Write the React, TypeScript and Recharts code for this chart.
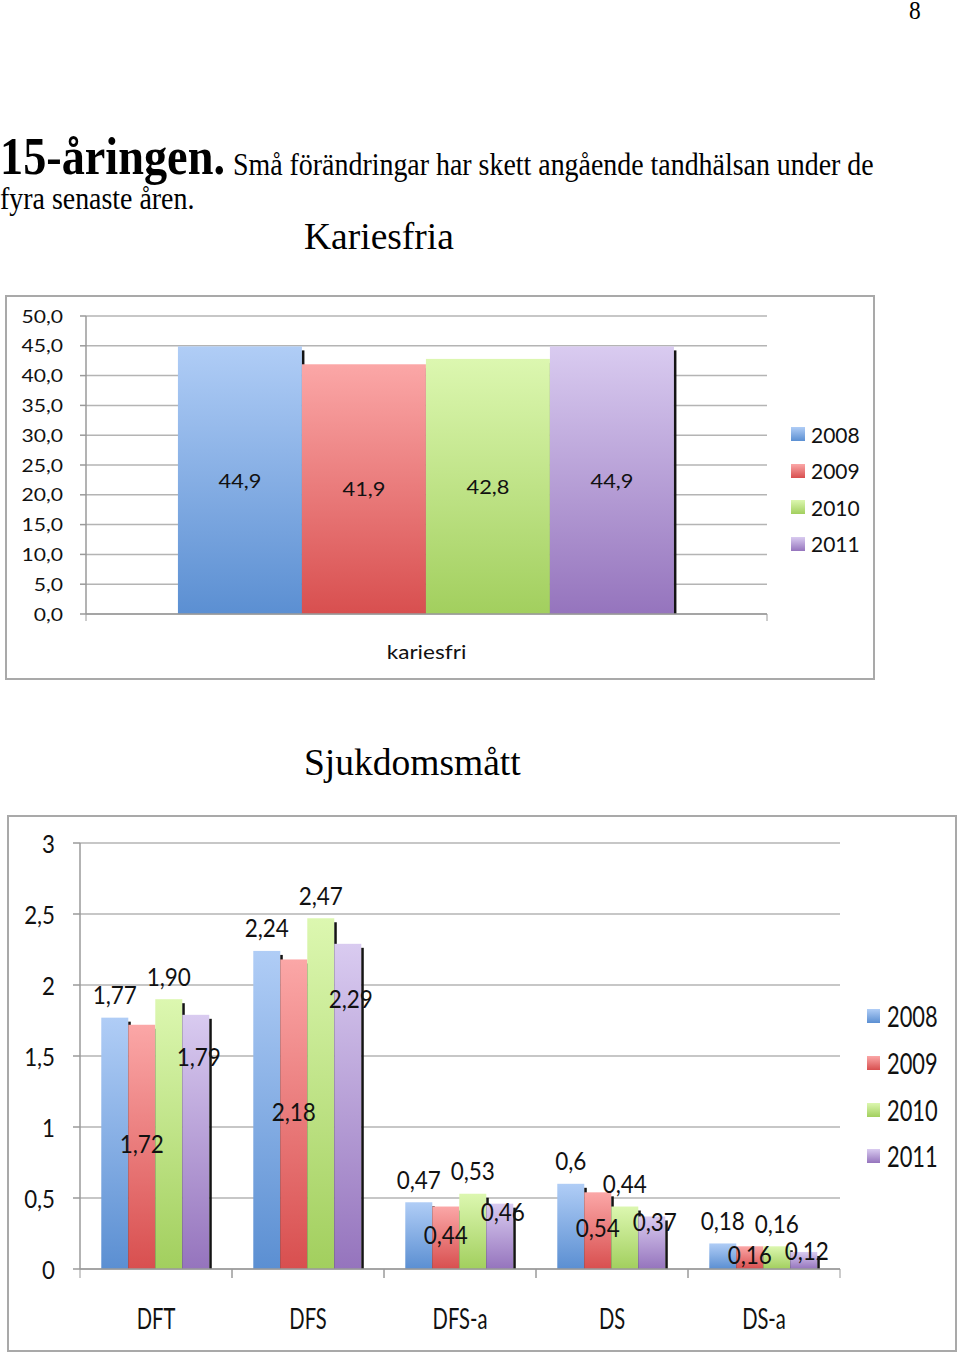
import { BarChart, Bar, XAxis, YAxis, CartesianGrid, Legend, LabelList } from 'recharts';

const years = ['2008', '2009', '2010', '2011'];

const kariesCategories = ['kariesfri'];
const karies2008 = [44.9];
const karies2009 = [41.9];
const karies2010 = [42.8];
const karies2011 = [44.9];
const kariesTicks = [0, 5, 10, 15, 20, 25, 30, 35, 40, 45, 50];

const sjukCategories = ['DFT', 'DFS', 'DFS-a', 'DS', 'DS-a'];
const sjuk2008 = [1.77, 2.24, 0.47, 0.6, 0.18];
const sjuk2009 = [1.72, 2.18, 0.44, 0.54, 0.16];
const sjuk2010 = [1.9, 2.47, 0.53, 0.44, 0.16];
const sjuk2011 = [1.79, 2.29, 0.46, 0.37, 0.12];
// labels as printed in the chart
const sjukText2008 = ['1,77', '2,24', '0,47', '0,6', '0,18'];
const sjukText2009 = ['1,72', '2,18', '0,44', '0,54', '0,16'];
const sjukText2010 = ['1,90', '2,47', '0,53', '0,44', '0,16'];
const sjukText2011 = ['1,79', '2,29', '0,46', '0,37', '0,12'];
const sjukTicks = [0, 0.5, 1, 1.5, 2, 2.5, 3];

const kariesData = kariesCategories.map((name, i) => ({
  name,
  y2008: karies2008[i],
  y2009: karies2009[i],
  y2010: karies2010[i],
  y2011: karies2011[i],
}));

const sjukData = sjukCategories.map((name, i) => ({
  name,
  y2008: sjuk2008[i],
  y2009: sjuk2009[i],
  y2010: sjuk2010[i],
  y2011: sjuk2011[i],
  t2008: sjukText2008[i],
  t2009: sjukText2009[i],
  t2010: sjukText2010[i],
  t2011: sjukText2011[i],
}));

const seriesColors = [
  { top: '#b0cdf6', bottom: '#5b8fd2' },
  { top: '#fba7a7', bottom: '#d84f4f' },
  { top: '#dcf7b0', bottom: '#a2cf5e' },
  { top: '#d9cbf0', bottom: '#9574bd' },
];

const FONT = 'Lato, "Open Sans", sans-serif';
const GRID = '#b4b4b4';
const AXIS = '#9a9a9a';

const sText = (x: number, y: number, text: string, size: number, sx: number, anchor = 'middle') => (
  <text
    transform={`translate(${x},${y}) scale(${sx},1)`}
    textAnchor={anchor}
    dominantBaseline="central"
    fontSize={size}
    fontFamily={FONT}
    fill="#111"
  >
    {text}
  </text>
);

const barBox = (p: any) => {
  const v = p.viewBox && p.viewBox.width != null ? p.viewBox : p;
  return { x: Number(v.x), y: Number(v.y), w: Number(v.width), h: Number(v.height) };
};

const ShadowBar = (props: any) => {
  const { x, y, width, height, fill } = props;
  if (!height || height <= 0) return null;
  return (
    <g>
      <rect x={x} y={y} width={width} height={height} fill={fill} />
      <rect x={x + width} y={y + 4} width={2.5} height={Math.max(height - 4, 0)} fill="#141414" />
    </g>
  );
};

const gradients = (prefix: string) => (
  <defs>
    {seriesColors.map((c, i) => (
      <linearGradient key={i} id={`${prefix}${i}`} x1="0" y1="0" x2="0" y2="1">
        <stop offset="0%" stopColor={c.top} />
        <stop offset="100%" stopColor={c.bottom} />
      </linearGradient>
    ))}
  </defs>
);

const makeXTick = (axisY: number, band: number, markLen: number, dy: number, size: number, sx: number) =>
  (p: any) => (
    <g>
      <line x1={p.x - band / 2} x2={p.x - band / 2} y1={axisY} y2={axisY + markLen} stroke={AXIS} />
      <line x1={p.x + band / 2} x2={p.x + band / 2} y1={axisY} y2={axisY + markLen} stroke={AXIS} />
      {sText(p.x, axisY + dy, String(p.payload.value), size, sx)}
    </g>
  );

const makeLegend = (size: number, sx: number, rowH: number, sq: number, gap: number) => () => (
  <div>
    {years.map((yr, i) => (
      <div key={yr} style={{ height: rowH, display: 'flex', alignItems: 'center' }}>
        <span
          style={{
            display: 'inline-block',
            width: sq,
            height: sq,
            marginRight: gap,
            background: `linear-gradient(${seriesColors[i].top}, ${seriesColors[i].bottom})`,
          }}
        />
        <span
          style={{
            display: 'inline-block',
            fontFamily: FONT,
            fontSize: size,
            lineHeight: 1,
            color: '#111',
            transform: `scaleX(${sx})`,
            transformOrigin: 'left center',
          }}
        >
          {yr}
        </span>
      </div>
    ))}
  </div>
);

// chart 1 layout: plot x 81..762, y 21..319
const K_W = 870;
const K_H = 385;
const K_AXIS_Y = 319;
const K_BAND = 681;

const kariesYTick = (p: any) => sText(p.x, p.y, Number(p.payload.value).toFixed(1).replace('.', ','), 16.5, 1.28, 'end');
const kariesLabel = (p: any) => {
  const b = barBox(p);
  return sText(b.x + b.w / 2, b.y + b.h / 2, Number(p.value).toFixed(1).replace('.', ','), 18.5, 1.18);
};

// chart 2 layout: plot x 73..833, y 28..454
const S_W = 950;
const S_H = 537;
const S_AXIS_Y = 454;
const S_BAND = 152;

const sjukYTick = (p: any) => sText(p.x, p.y, String(p.payload.value).replace('.', ','), 25, 0.89, 'end');
const sjukTopLabel = (p: any) => {
  const b = barBox(p);
  return sText(b.x + b.w / 2, b.y - 23, String(p.value), 25, 0.9);
};
const sjukMidLabel = (p: any) => {
  const b = barBox(p);
  return sText(b.x + b.w / 2, b.y + b.h / 2 - 3, String(p.value), 25, 0.9);
};
const sjukUpperLabel = (p: any) => {
  const b = barBox(p);
  return sText(b.x + b.w / 2 + 3, b.y + b.h * 0.18 - 4, String(p.value), 25, 0.9);
};

const serifText = (extra: React.CSSProperties): React.CSSProperties => ({
  position: 'absolute',
  fontFamily: '"Liberation Serif", serif',
  lineHeight: 1,
  whiteSpace: 'nowrap',
  transformOrigin: 'left top',
  color: '#000',
  ...extra,
});

export default function App() {
  return (
    <div style={{ position: 'absolute', left: 0, top: 0, width: 960, height: 1357, background: '#fff' }}>
      <div style={serifText({ left: 909, top: 0, fontSize: 26, lineHeight: 0.85, transform: 'scaleX(0.9)' })}>8</div>
      <div style={serifText({ left: 0, top: 134, fontSize: 52, lineHeight: 0.9, fontWeight: 700, transform: 'scaleX(0.89)' })}>
        15-åringen.
      </div>
      <div style={serifText({ left: 233, top: 149, fontSize: 31, transform: 'scaleX(0.9)' })}>
        Små förändringar har skett angående tandhälsan under de
      </div>
      <div style={serifText({ left: 0, top: 183, fontSize: 31, transform: 'scaleX(0.9)' })}>fyra senaste åren.</div>
      <div style={serifText({ left: 304, top: 218, fontSize: 37.5 })}>Kariesfria</div>
      <div style={serifText({ left: 304, top: 744, fontSize: 37.5 })}>Sjukdomsmått</div>

      <div style={{ position: 'absolute', left: 5, top: 295, width: K_W, height: K_H }}>
        <BarChart
          width={K_W}
          height={K_H}
          data={kariesData}
          margin={{ top: 21, right: 108, bottom: 16, left: 0 }}
          barCategoryGap="13.5%"
          barGap={0}
        >
          {gradients('kg')}
          <CartesianGrid vertical={false} stroke={GRID} strokeWidth={1.5} />
          <XAxis
            dataKey="name"
            height={50}
            interval={0}
            tickLine={false}
            axisLine={{ stroke: AXIS, strokeWidth: 1.5 }}
            tick={makeXTick(K_AXIS_Y, K_BAND, 7, 38, 20, 1.13)}
          />
          <YAxis
            width={81}
            domain={[0, 50]}
            ticks={kariesTicks}
            interval={0}
            tickSize={6}
            tickMargin={17}
            tickLine={{ stroke: AXIS, strokeWidth: 1.5 }}
            axisLine={{ stroke: AXIS, strokeWidth: 1.5 }}
            tick={kariesYTick}
          />
          <Legend
            layout="vertical"
            align="center"
            verticalAlign="middle"
            content={makeLegend(21, 1.0, 36.5, 14, 6)}
            wrapperStyle={{ left: 786, top: 121, width: 80 }}
          />
          {years.map((yr, i) => (
            <Bar
              key={yr}
              dataKey={`y${yr}`}
              name={yr}
              fill={`url(#kg${i})`}
              shape={(p: any) => <ShadowBar {...p} fill={`url(#kg${i})`} />}
              isAnimationActive={false}
            >
              <LabelList dataKey={`y${yr}`} content={kariesLabel} />
            </Bar>
          ))}
        </BarChart>
      </div>
      <div
        style={{
          position: 'absolute',
          left: 5,
          top: 295,
          width: K_W,
          height: K_H,
          border: '2px solid #a9a9a9',
          boxSizing: 'border-box',
          pointerEvents: 'none',
        }}
      />

      <div style={{ position: 'absolute', left: 7, top: 815, width: S_W, height: S_H }}>
        <BarChart
          width={S_W}
          height={S_H}
          data={sjukData}
          margin={{ top: 28, right: 117, bottom: 23, left: 0 }}
          barCategoryGap="14%"
          barGap={0}
        >
          {gradients('sg')}
          <CartesianGrid vertical={false} stroke={GRID} strokeWidth={1.5} />
          <XAxis
            dataKey="name"
            height={60}
            interval={0}
            tickLine={false}
            axisLine={{ stroke: AXIS, strokeWidth: 1.5 }}
            tick={makeXTick(S_AXIS_Y, S_BAND, 9, 49, 28, 0.72)}
          />
          <YAxis
            width={73}
            domain={[0, 3]}
            ticks={sjukTicks}
            interval={0}
            tickSize={7}
            tickMargin={18}
            tickLine={{ stroke: AXIS, strokeWidth: 1.5 }}
            axisLine={{ stroke: AXIS, strokeWidth: 1.5 }}
            tick={sjukYTick}
          />
          <Legend
            layout="vertical"
            align="center"
            verticalAlign="middle"
            content={makeLegend(28, 0.78, 46.7, 14, 7)}
            wrapperStyle={{ left: 860, top: 178, width: 85 }}
          />
          {years.map((yr, i) => (
            <Bar
              key={yr}
              dataKey={`y${yr}`}
              name={yr}
              fill={`url(#sg${i})`}
              shape={(p: any) => <ShadowBar {...p} fill={`url(#sg${i})`} />}
              isAnimationActive={false}
            >
              <LabelList
                dataKey={`t${yr}`}
                content={i === 1 ? sjukMidLabel : i === 3 ? sjukUpperLabel : sjukTopLabel}
              />
            </Bar>
          ))}
        </BarChart>
      </div>
      <div
        style={{
          position: 'absolute',
          left: 7,
          top: 815,
          width: S_W,
          height: S_H,
          border: '2px solid #a9a9a9',
          boxSizing: 'border-box',
          pointerEvents: 'none',
        }}
      />
    </div>
  );
}
